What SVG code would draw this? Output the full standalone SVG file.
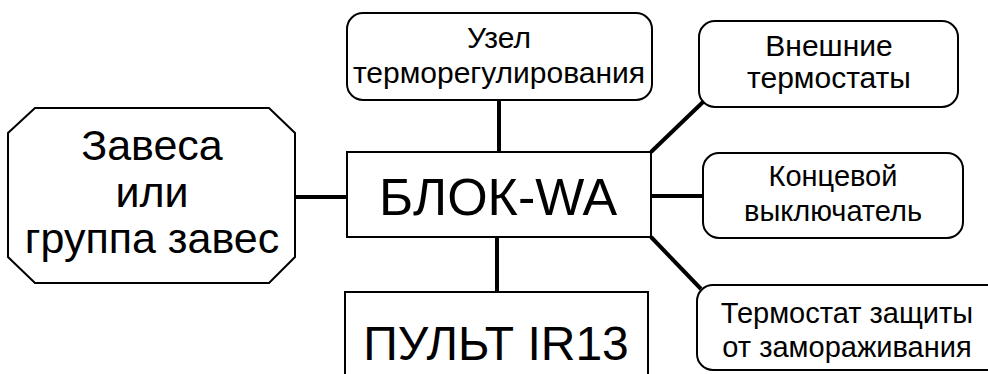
<svg xmlns="http://www.w3.org/2000/svg" width="988" height="374" viewBox="0 0 988 374">
<style>
.box{fill:#fff;stroke:#000;stroke-width:2}
.con{stroke:#000;stroke-width:4;fill:none;stroke-linecap:butt}
text{font-family:"Liberation Sans",Arial,sans-serif;fill:#000;text-anchor:middle}
.s{font-size:30px}
.t{font-size:29px}
.m{font-size:43px}
.l{font-size:52px}
.p{font-size:48px}
</style>
<rect width="988" height="374" fill="#fff"/>
<g id="connectors">
<line class="con" x1="295" y1="197" x2="347" y2="197"/>
<line class="con" x1="499" y1="100" x2="499" y2="152"/>
<line class="con" x1="497" y1="237" x2="497" y2="292"/>
<line class="con" x1="651" y1="152" x2="703" y2="102"/>
<line class="con" x1="651" y1="196" x2="703" y2="196"/>
<line class="con" x1="651" y1="237" x2="701" y2="289"/>
</g>
<g id="zavesa">
<polygon class="box" points="35,108 269,108 295,133 295,257 269,283 35,283 8,257 8,133"/>
<text class="m" x="152" y="160">Завеса</text>
<text class="m" x="152" y="207">или</text>
<text class="m" x="152" y="253">группа завес</text>
</g>
<g id="blok">
<rect class="box" x="347" y="152" width="304" height="85"/>
<text class="l" x="498" y="215">БЛОК-WA</text>
</g>
<g id="uzel">
<rect class="box" x="347" y="13" width="305" height="87" rx="16"/>
<text class="s" x="499" y="48">Узел</text>
<text class="s" x="499" y="83">терморегулирования</text>
</g>
<g id="pult">
<rect class="box" x="345" y="292" width="303" height="100"/>
<text class="p" x="496" y="360">ПУЛЬТ IR13</text>
</g>
<g id="vneshnie">
<rect class="box" x="699" y="21" width="259" height="86" rx="16"/>
<text class="s" x="829" y="56">Внешние</text>
<text class="s" x="829" y="88">термостаты</text>
</g>
<g id="koncevoy">
<rect class="box" x="703" y="153" width="260" height="85" rx="16"/>
<text class="t" x="833" y="186">Концевой</text>
<text class="t" x="833" y="221">выключатель</text>
</g>
<g id="termostat">
<rect class="box" x="697" y="285" width="310" height="85" rx="16"/>
<text class="t" x="847" y="323">Термостат защиты</text>
<text class="t" x="847" y="357">от замораживания</text>
</g>
</svg>
